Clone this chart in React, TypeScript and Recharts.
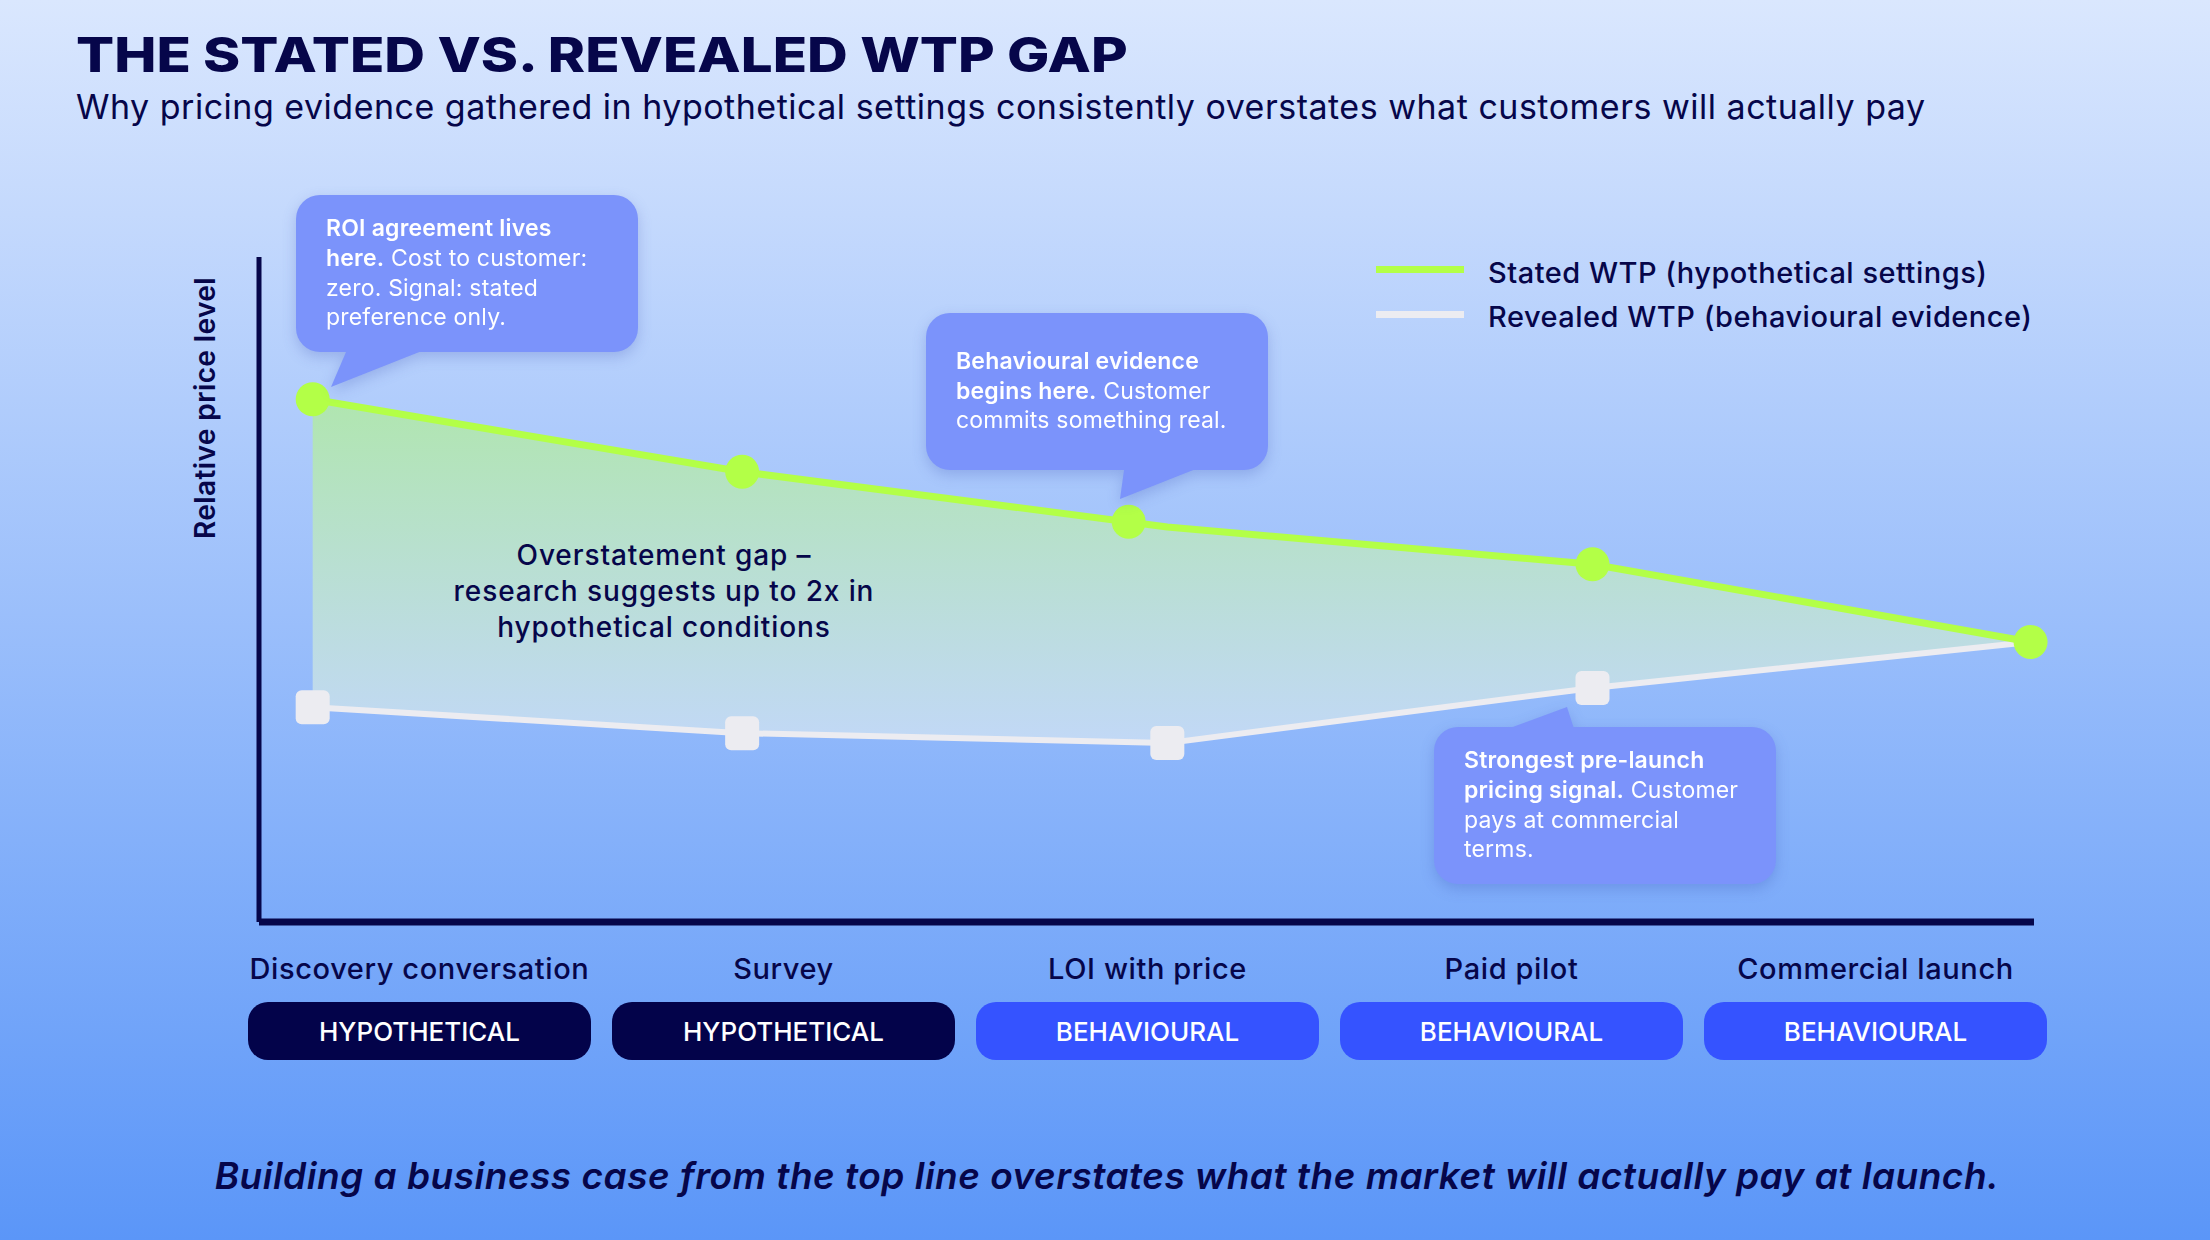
import React from "react";
import { Area, ComposedChart, Line, ReferenceLine, Scatter, XAxis, YAxis } from "recharts";

const stages = ["Discovery conversation", "Survey", "LOI with price", "Paid pilot", "Commercial launch"];
const stageKinds = ["HYPOTHETICAL", "HYPOTHETICAL", "BEHAVIOURAL", "BEHAVIOURAL", "BEHAVIOURAL"];
const stagePos = [0, 1, 1.99, 2.98, 4];
const statedWtp = [78.6, 67.7, 59.4, 53.8, 42.1];
const revealedWtp = [32.3, 28.4, 26.9, 35.2, 42.1];
// the LOI marker on the stated line is drawn a little left of its vertex
const statedMarkPos = [0, 1, 1.9, 2.98, 4];
const statedMarkWtp = [78.6, 67.7, 60.2, 53.8, 42.1];

const NAVY = "#06064a";
const LIME = "#b3ff47";
const PALE = "#ececf1";
const CALLOUT = "#7b93fb";
const FONT = "Inter, 'Noto Sans', sans-serif";

const statedData = stagePos.map((x, i) => ({ x, y: statedWtp[i] }));
const revealedData = stagePos.map((x, i) => ({ x, y: revealedWtp[i] }));
const statedMarks = statedMarkPos.map((x, i) => ({ x, y: statedMarkWtp[i] }));
// lines meet at launch, only the green marker is shown there
const revealedMarks = revealedData.slice(0, 4);
const gapData = stagePos.map((x, i) => ({ x, band: [revealedWtp[i], statedWtp[i]] }));

const circleMark = (p: any) => <circle cx={p.cx} cy={p.cy} r={17} fill={LIME} />;
const squareMark = (p: any) => (
  <rect x={p.cx - 17} y={p.cy - 17} width={34} height={34} rx={6} fill={PALE} />
);

function Callout({
  left,
  top,
  tail,
  children,
}: {
  left: number;
  top: number;
  tail: string;
  children: React.ReactNode;
}) {
  return (
    <div
      style={{
        position: "absolute",
        left,
        top,
        width: 342,
        height: 157,
        filter: "drop-shadow(0 5px 7px rgba(40, 60, 170, 0.22))",
      }}
    >
      <svg
        width={342}
        height={157}
        style={{ position: "absolute", left: 0, top: 0, overflow: "visible" }}
      >
        <polygon points={tail} fill={CALLOUT} />
      </svg>
      <div
        style={{
          position: "absolute",
          inset: 0,
          background: CALLOUT,
          borderRadius: 24,
          display: "flex",
          alignItems: "center",
          paddingLeft: 30,
          color: "#ffffff",
          fontSize: 23,
          letterSpacing: 0.2,
          lineHeight: "29.6px",
          whiteSpace: "nowrap",
        }}
      >
        <div>{children}</div>
      </div>
    </div>
  );
}

export default function App() {
  return (
    <div
      style={{
        position: "fixed",
        left: 0,
        top: 0,
        width: 2210,
        height: 1240,
        overflow: "hidden",
        background: "linear-gradient(180deg, #dae7fe 0%, #5b96f8 100%)",
        fontFamily: FONT,
        color: NAVY,
      }}
    >
      <svg width={0} height={0} style={{ position: "absolute" }}>
        <defs>
          <linearGradient id="gapFill" x1="0" y1="0" x2="0" y2="1">
            <stop offset="0%" stopColor="#b0e7ab" stopOpacity={0.95} />
            <stop offset="100%" stopColor="#c6dbf6" stopOpacity={0.92} />
          </linearGradient>
        </defs>
      </svg>

      <div
        style={{
          position: "absolute",
          left: 76,
          top: 31,
          fontSize: 48,
          lineHeight: 1,
          fontWeight: 800,
          whiteSpace: "nowrap",
          transform: "scaleX(1.175)",
          transformOrigin: "left top",
        }}
      >
        THE STATED VS. REVEALED WTP GAP
      </div>
      <div
        style={{
          position: "absolute",
          left: 76,
          top: 90,
          fontSize: 34,
          letterSpacing: 0.5,
          lineHeight: 1,
          fontWeight: 400,
          whiteSpace: "nowrap",
        }}
      >
        Why pricing evidence gathered in hypothetical settings consistently overstates what customers will actually pay
      </div>

      <div style={{ position: "absolute", left: 0, top: 0 }}>
        <ComposedChart width={2210} height={1240} margin={{ top: 257, right: 176, bottom: 318, left: 259 }}>
          <XAxis type="number" dataKey="x" domain={[-0.125, 4.008]} hide />
          <YAxis type="number" dataKey="y" domain={[0, 100]} hide />
          <Area
            data={gapData}
            dataKey="band"
            type="linear"
            stroke="none"
            fill="url(#gapFill)"
            fillOpacity={1}
            dot={false}
            activeDot={false}
            isAnimationActive={false}
          />
          <ReferenceLine x={-0.125} stroke={NAVY} strokeWidth={5} ifOverflow="visible" />
          <ReferenceLine y={0} stroke={NAVY} strokeWidth={7} ifOverflow="visible" />
          <Line
            data={revealedData}
            dataKey="y"
            type="linear"
            stroke={PALE}
            strokeWidth={6}
            dot={false}
            activeDot={false}
            isAnimationActive={false}
          />
          <Line
            data={statedData}
            dataKey="y"
            type="linear"
            stroke={LIME}
            strokeWidth={7}
            dot={false}
            activeDot={false}
            isAnimationActive={false}
          />
          <Scatter data={revealedMarks} shape={squareMark} isAnimationActive={false} />
          <Scatter data={statedMarks} shape={circleMark} isAnimationActive={false} />
        </ComposedChart>
      </div>

      <svg width={2210} height={1240} style={{ position: "absolute", left: 0, top: 0, pointerEvents: "none" }}>
        <text
          transform="translate(215, 408) rotate(-90)"
          textAnchor="middle"
          fontFamily={FONT}
          fontSize={28}
          letterSpacing={0.4}
          fontWeight={600}
          fill={NAVY}
        >
          Relative price level
        </text>
      </svg>

      <div
        style={{
          position: "absolute",
          left: 414,
          top: 537,
          width: 500,
          textAlign: "center",
          fontSize: 28,
          letterSpacing: 0.9,
          lineHeight: "36px",
          fontWeight: 500,
          whiteSpace: "nowrap",
        }}
      >
        Overstatement gap –<br />
        research suggests up to 2x in
        <br />
        hypothetical conditions
      </div>

      {/* legend */}
      <div style={{ position: "absolute", left: 1376, top: 265.5, width: 88, height: 7, background: LIME }} />
      <div style={{ position: "absolute", left: 1376, top: 310.5, width: 88, height: 7, background: PALE }} />
      <div
        style={{
          position: "absolute",
          left: 1488,
          top: 258,
          fontSize: 29,
          letterSpacing: 0.5,
          lineHeight: 1,
          fontWeight: 500,
          whiteSpace: "nowrap",
        }}
      >
        Stated WTP (hypothetical settings)
      </div>
      <div
        style={{
          position: "absolute",
          left: 1488,
          top: 302,
          fontSize: 29,
          letterSpacing: 0.5,
          lineHeight: 1,
          fontWeight: 500,
          whiteSpace: "nowrap",
        }}
      >
        Revealed WTP (behavioural evidence)
      </div>

      <Callout left={296} top={195} tail="53,150 141,150 35,192">
        <b style={{ fontWeight: 600 }}>ROI agreement lives</b>
        <br />
        <b style={{ fontWeight: 600 }}>here.</b> Cost to customer:
        <br />
        zero. Signal: stated
        <br />
        preference only.
      </Callout>
      <Callout left={926} top={313} tail="199,150 285,150 194,186">
        <b style={{ fontWeight: 600 }}>Behavioural evidence</b>
        <br />
        <b style={{ fontWeight: 600 }}>begins here.</b> Customer
        <br />
        commits something real.
      </Callout>
      <Callout left={1434} top={727} tail="57,8 142,8 133,-20">
        <b style={{ fontWeight: 600 }}>Strongest pre-launch</b>
        <br />
        <b style={{ fontWeight: 600 }}>pricing signal.</b> Customer
        <br />
        pays at commercial
        <br />
        terms.
      </Callout>

      {stages.map((s, i) => (
        <div key={s}>
          <div
            style={{
              position: "absolute",
              left: 248 + i * 364 - 30,
              width: 403,
              top: 954,
              textAlign: "center",
              fontSize: 29,
              letterSpacing: 0.6,
              lineHeight: 1,
              fontWeight: 500,
              whiteSpace: "nowrap",
            }}
          >
            {s}
          </div>
          <div
            style={{
              position: "absolute",
              left: 248 + i * 364,
              top: 1002,
              width: 343,
              height: 58,
              borderRadius: 20,
              background: stageKinds[i] === "HYPOTHETICAL" ? "#03034a" : "#3553ff",
              color: "#ffffff",
              display: "flex",
              alignItems: "center",
              justifyContent: "center",
              fontSize: 26,
              fontWeight: 500,
            }}
          >
            {stageKinds[i]}
          </div>
        </div>
      ))}

      <div
        style={{
          position: "absolute",
          left: 0,
          width: 2214,
          top: 1157,
          textAlign: "center",
          fontSize: 37,
          letterSpacing: 0.5,
          lineHeight: 1,
          fontWeight: 600,
          fontStyle: "italic",
          whiteSpace: "nowrap",
        }}
      >
        Building a business case from the top line overstates what the market will actually pay at launch.
      </div>
    </div>
  );
}
